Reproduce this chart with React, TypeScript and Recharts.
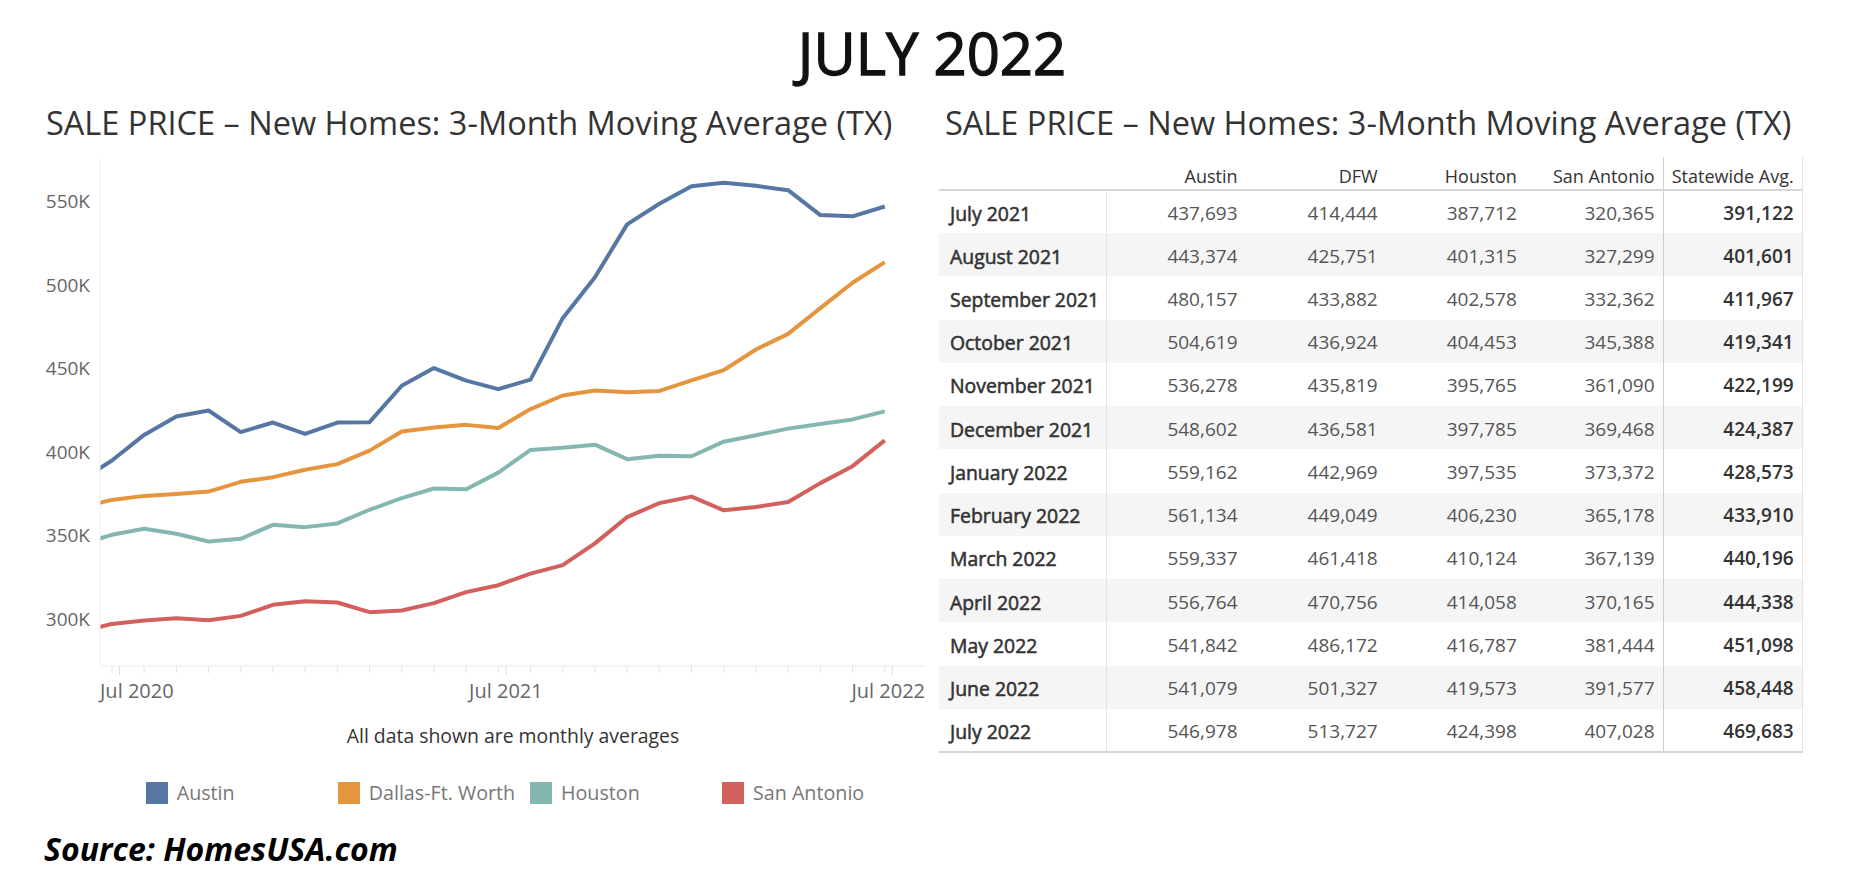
import React from 'react';
import { LineChart, Line, XAxis, YAxis } from 'recharts';

// ---------- chart data (monthly, Jun 2020 .. Jul 2022) ----------
const chartMonths = [
  'Jun 2020', 'Jul 2020', 'Aug 2020', 'Sep 2020', 'Oct 2020', 'Nov 2020', 'Dec 2020',
  'Jan 2021', 'Feb 2021', 'Mar 2021', 'Apr 2021', 'May 2021', 'Jun 2021',
  'Jul 2021', 'Aug 2021', 'Sep 2021', 'Oct 2021', 'Nov 2021', 'Dec 2021',
  'Jan 2022', 'Feb 2022', 'Mar 2022', 'Apr 2022', 'May 2022', 'Jun 2022', 'Jul 2022',
];
// Jun 2020 .. Jun 2021
const austinEarly = [382500, 395000, 410300, 421300, 424900, 412000, 417700, 410900, 417700, 417900, 439700, 450300, 442800];
const dfwEarly = [366700, 371400, 373800, 374900, 376400, 382200, 385000, 389400, 392800, 400900, 412300, 414700, 416300];
const houstonEarly = [344700, 350500, 354100, 351100, 346500, 348100, 356500, 355100, 357300, 365500, 372500, 378200, 377800];
const sanAntonioEarly = [292400, 297200, 299200, 300600, 299400, 302000, 308600, 310800, 310000, 304200, 305200, 309600, 316200];

// ---------- table data (Jul 2021 .. Jul 2022) ----------
const tableMonths = [
  'July 2021', 'August 2021', 'September 2021', 'October 2021', 'November 2021', 'December 2021',
  'January 2022', 'February 2022', 'March 2022', 'April 2022', 'May 2022', 'June 2022', 'July 2022',
];
const austinTable = [437693, 443374, 480157, 504619, 536278, 548602, 559162, 561134, 559337, 556764, 541842, 541079, 546978];
const dfwTable = [414444, 425751, 433882, 436924, 435819, 436581, 442969, 449049, 461418, 470756, 486172, 501327, 513727];
const houstonTable = [387712, 401315, 402578, 404453, 395765, 397785, 397535, 406230, 410124, 414058, 416787, 419573, 424398];
const sanAntonioTable = [320365, 327299, 332362, 345388, 361090, 369468, 373372, 365178, 367139, 370165, 381444, 391577, 407028];
const statewideTable = [391122, 401601, 411967, 419341, 422199, 424387, 428573, 433910, 440196, 444338, 451098, 458448, 469683];
const tableHeaders = ['Austin', 'DFW', 'Houston', 'San Antonio', 'Statewide Avg.'];

// ---------- series / axes ----------
const seriesNames = ['Austin', 'Dallas-Ft. Worth', 'Houston', 'San Antonio'];
const seriesKeys = ['austin', 'dfw', 'houston', 'sanAntonio'];
const seriesColors = ['#5677a4', '#e6953f', '#85b7b1', '#d2605c'];
const yTicks = [300000, 350000, 400000, 450000, 500000, 550000];
const xTickLabels = ['Jul 2020', 'Jul 2021', 'Jul 2022'];
const xTickMonthIdx = [1, 13, 25];

const austinAll = [...austinEarly, ...austinTable];
const dfwAll = [...dfwEarly, ...dfwTable];
const houstonAll = [...houstonEarly, ...houstonTable];
const sanAntonioAll = [...sanAntonioEarly, ...sanAntonioTable];

const chartData = chartMonths.map((m, i) => ({
  idx: i,
  month: m,
  austin: austinAll[i],
  dfw: dfwAll[i],
  houston: houstonAll[i],
  sanAntonio: sanAntonioAll[i],
}));

// layout constants
const FONT = "'Open Sans', 'Noto Sans', sans-serif";
const PLOT_LEFT = 100;
const PLOT_RIGHT = 925;
const MAJOR_OFFSET = 0.235;
const X_DOMAIN: [number, number] = [0.63, 26.25];

const minorTicks = chartMonths.map((_, i) => i).filter((i) => i >= X_DOMAIN[0] && i <= X_DOMAIN[1]);
const majorTicks = xTickMonthIdx.map((i) => i + MAJOR_OFFSET);
const allXTicks = [...minorTicks, ...majorTicks];

const XTick = (props: any) => {
  const { x, y, payload } = props;
  const v = payload.value as number;
  const majorPos = majorTicks.indexOf(v);
  if (majorPos < 0) {
    return <line x1={x} x2={x} y1={y} y2={y + 7} stroke="#e2e2e2" strokeWidth={1} />;
  }
  let anchor: 'start' | 'middle' | 'end' = 'middle';
  let tx = x;
  if (majorPos === 0) { anchor = 'start'; tx = PLOT_LEFT; }
  if (majorPos === majorTicks.length - 1) { anchor = 'end'; tx = PLOT_RIGHT; }
  return (
    <g>
      <line x1={x} x2={x} y1={y} y2={y + 9} stroke="#dcdcdc" strokeWidth={1} />
      <text x={tx} y={y + 25} dy="0.35em" textAnchor={anchor} fill="#666" fontSize={20} fontFamily={FONT}>
        {xTickLabels[majorPos]}
      </text>
    </g>
  );
};

const YTick = (props: any) => {
  const { x, y, payload } = props;
  return (
    <text x={x} y={y} dy="0.35em" textAnchor="end" fill="#666" fontSize={19} fontFamily={FONT}>
      {`${Math.round(payload.value / 1000)}K`}
    </text>
  );
};

const fmt = (n: number) => n.toLocaleString('en-US');

const ROW_TOP = 190;
const ROW_H = 43.23;
const TABLE_LEFT = 939;
const TABLE_RIGHT = 1802;
const colRight = [1237.5, 1377.7, 1516.8, 1654.6, 1793.7];

export default function App() {
  const tableCols = [austinTable, dfwTable, houstonTable, sanAntonioTable, statewideTable];
  return (
    <div style={{ position: 'absolute', left: 0, top: 0, width: 1856, height: 884, background: '#fff', fontFamily: FONT, overflow: 'hidden' }}>
      {/* main title */}
      <div style={{ position: 'absolute', left: 0, width: 1864, top: 23, height: 60, lineHeight: '60px', textAlign: 'center', fontSize: 58, fontWeight: 400, color: '#111', WebkitTextStroke: '1.3px #111' } as any}>
        JULY 2022
      </div>
      {/* chart title */}
      <div style={{ position: 'absolute', left: 46, top: 103, height: 40, lineHeight: '40px', fontSize: 32.5, color: '#333', whiteSpace: 'nowrap' }}>
        SALE PRICE – New Homes: 3-Month Moving Average (TX)
      </div>
      {/* table title */}
      <div style={{ position: 'absolute', left: 945, top: 103, height: 40, lineHeight: '40px', fontSize: 32.5, color: '#333', whiteSpace: 'nowrap' }}>
        SALE PRICE – New Homes: 3-Month Moving Average (TX)
      </div>

      {/* line chart */}
      <div style={{ position: 'absolute', left: 0, top: 0 }}>
        <LineChart width={940} height={710} data={chartData} margin={{ top: 158, right: 15, bottom: 0, left: 0 }}>
          <XAxis
            dataKey="idx"
            type="number"
            domain={X_DOMAIN}
            allowDataOverflow
            ticks={allXTicks}
            interval={0}
            tick={XTick}
            tickLine={false}
            tickSize={0}
            tickMargin={0}
            height={44}
            axisLine={{ stroke: '#ebebeb', strokeWidth: 1 }}
          />
          <YAxis
            type="number"
            domain={[272000, 576000]}
            allowDataOverflow
            ticks={yTicks}
            interval={0}
            tick={YTick}
            tickLine={false}
            tickSize={8}
            tickMargin={2}
            width={100}
            axisLine={{ stroke: '#efefef', strokeWidth: 1 }}
          />
          {seriesKeys.map((k, i) => (
            <Line
              key={k}
              type="linear"
              dataKey={k}
              name={seriesNames[i]}
              stroke={seriesColors[i]}
              strokeWidth={4}
              strokeLinejoin="round"
              dot={false}
              activeDot={false}
              isAnimationActive={false}
            />
          ))}
        </LineChart>
      </div>

      {/* caption */}
      <div style={{ position: 'absolute', left: 263, width: 500, top: 722, height: 28, lineHeight: '28px', textAlign: 'center', fontSize: 19.4, color: '#333' }}>
        All data shown are monthly averages
      </div>

      {/* legend */}
      {seriesNames.map((n, i) => {
        const lx = [145.7, 337.7, 530, 722][i];
        return (
          <div key={n} style={{ position: 'absolute', left: lx, top: 782, height: 22, display: 'flex', alignItems: 'center', whiteSpace: 'nowrap' }}>
            <div style={{ width: 22, height: 22, background: seriesColors[i] }} />
            <div style={{ marginLeft: 9, fontSize: 19.7, color: '#777', lineHeight: '22px' }}>{n}</div>
          </div>
        );
      })}

      {/* source */}
      <div style={{ position: 'absolute', left: 44, top: 829, height: 40, lineHeight: '40px', fontSize: 32, fontWeight: 700, fontStyle: 'italic', color: '#000', whiteSpace: 'nowrap' }}>
        Source: HomesUSA.com
      </div>

      {/* table */}
      {tableMonths.map((m, r) => (
        <div key={m} style={{ position: 'absolute', left: TABLE_LEFT, top: ROW_TOP + r * ROW_H, width: TABLE_RIGHT - TABLE_LEFT, height: ROW_H, background: r % 2 === 1 ? '#f5f5f5' : '#fff' }} />
      ))}
      {tableHeaders.map((h, c) => (
        <div key={h} style={{ position: 'absolute', left: colRight[c] - 140, width: 140, top: 159, height: 32, lineHeight: '34px', textAlign: 'right', fontSize: 18, color: '#333', whiteSpace: 'nowrap' }}>
          {h}
        </div>
      ))}
      {tableMonths.map((m, r) => (
        <React.Fragment key={m}>
          <div style={{ position: 'absolute', left: 950, top: ROW_TOP + r * ROW_H + 1.5, height: ROW_H, lineHeight: `${ROW_H}px`, fontSize: 19.4, fontWeight: 400, color: '#333', whiteSpace: 'nowrap', WebkitTextStroke: '0.55px #333' } as any}>
            {m}
          </div>
          {tableCols.map((col, c) => (
            <div key={c} style={{ position: 'absolute', left: colRight[c] - 130, width: 130, top: ROW_TOP + r * ROW_H + 1.5, height: ROW_H, lineHeight: `${ROW_H}px`, textAlign: 'right', fontSize: 19, fontWeight: c === 4 ? 600 : 400, color: c === 4 ? '#333' : '#555' }}>
              {fmt(col[r])}
            </div>
          ))}
        </React.Fragment>
      ))}
      {/* table rules */}
      <div style={{ position: 'absolute', left: TABLE_LEFT, top: 189, width: TABLE_RIGHT - TABLE_LEFT, height: 2, background: '#d6d6d6' }} />
      <div style={{ position: 'absolute', left: TABLE_LEFT, top: 751, width: TABLE_RIGHT - TABLE_LEFT + 1, height: 2, background: '#d6d6d6' }} />
      <div style={{ position: 'absolute', left: 1106, top: 191, width: 1, height: 560, background: '#e4e4e4' }} />
      <div style={{ position: 'absolute', left: 1663, top: 157, width: 1, height: 594, background: '#cfcfcf' }} />
      <div style={{ position: 'absolute', left: TABLE_RIGHT, top: 157, width: 1, height: 594, background: '#e4e4e4' }} />
    </div>
  );
}
